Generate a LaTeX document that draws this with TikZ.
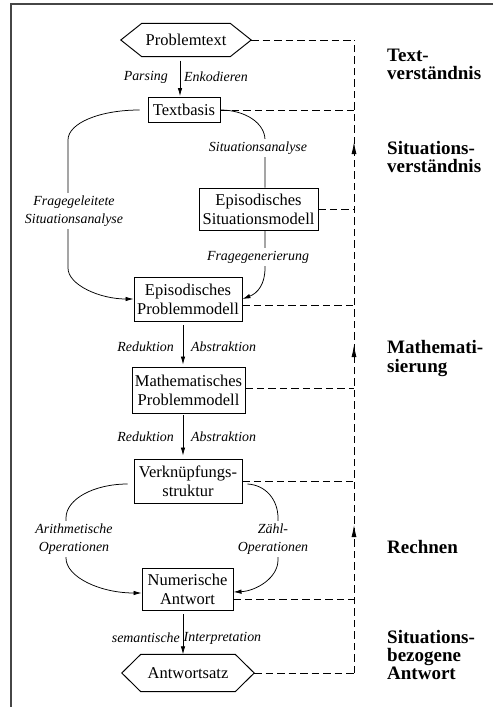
\documentclass[tikz,border=0pt]{standalone}
\usepackage{fontspec}
\setmainfont{Liberation Serif}
\usetikzlibrary{arrows.meta,decorations.markings}
\begin{document}
\begin{tikzpicture}[x=1pt,y=-1pt,
  box/.style={draw, line width=0.95pt, align=center, inner sep=2pt, font=\fontsize{16.5}{19}\selectfont},
  hexlabel/.style={inner sep=0pt, minimum height=#1, font=\fontsize{16.5}{19}\selectfont},
  conn/.style={line width=0.75pt},
  arr/.style={-{Latex[length=8pt,width=4.5pt]}},
  lab/.style={font=\itshape\fontsize{13.9}{18}\selectfont, inner sep=0pt, align=center},
  wlab/.style={lab, fill=white, inner sep=3pt},
  fb/.style={line width=0.8pt, dash pattern=on 7.5pt off 4pt},
  phase/.style={font=\bfseries\fontsize{19}{18}\selectfont, align=left, anchor=west, inner sep=0pt},
]
\useasboundingbox (0,0) rectangle (493,707);
% frame
\draw[gray!55!black, line width=1.4pt] (493,4) -- (11,4) -- (11,707);

% helper coordinates
\coordinate (ax0) at (180,0);
\coordinate (ax) at (183,0);
\coordinate (rx) at (265,0);
\coordinate (rail) at (354,0);

% nodes
\node[hexlabel=33pt, minimum width=88pt] (pt) at (186,40) {Problemtext};
\draw[line width=0.95pt] (pt.north west) -- (pt.north east) -- ([xshift=21pt]pt.east) coordinate (ptR) -- (pt.south east) -- (pt.south west) -- ([xshift=-21pt]pt.west) -- cycle;
\node[box, minimum width=72pt, minimum height=25pt] (tb) at (184,110) {Textbasis};
\node[box, minimum width=119pt, minimum height=42pt] (esm) at (258.5,209) {Episodisches\\Situationsmodell};
\node[box, minimum width=108pt, minimum height=44pt] (epm) at (188,299) {Episodisches\\Problemmodell};
\node[box, minimum width=113pt, minimum height=46pt] (mpm) at (188.5,390) {Mathematisches\\Problemmodell};
\node[box, minimum width=108pt, minimum height=44pt] (vs) at (188,481) {Verknüpfungs-\\struktur};
\node[box, minimum width=91pt, minimum height=42pt] (nu) at (187.5,589) {Numerische\\Antwort};
\node[hexlabel=37pt, minimum width=94pt] (as) at (188,673) {Antwortsatz};
\draw[line width=0.95pt] (as.north west) -- (as.north east) -- ([xshift=19pt]as.east) coordinate (asR) -- (as.south east) -- (as.south west) -- ([xshift=-19pt]as.west) -- cycle;

% straight arrows
\draw[conn, arr, shorten <=4pt, shorten >=1pt] (pt.south -| ax0) -- (tb.north -| ax0);
\node[lab, anchor=east] (lP) at (168,77) {Parsing};
\node[lab, anchor=west] (lE) at (184,77) {Enkodieren};
\draw[conn, arr, shorten <=4pt, shorten >=2pt] (epm.south -| ax) -- (mpm.north -| ax);
\node[lab, anchor=east] (lR1) at (174,347) {Reduktion};
\node[lab, anchor=west] (lA1) at (191,347) {Abstraktion};
\draw[conn, arr, shorten <=2pt, shorten >=3pt] (mpm.south -| ax) -- (vs.north -| ax);
\node[lab, anchor=east] (lR2) at (174,437) {Reduktion};
\node[lab, anchor=west] (lA2) at (191,437) {Abstraktion};
\draw[conn, arr, shorten <=4pt] (nu.south -| ax) -- (as.north -| ax);
\node[lab, anchor=east] (lS) at (180,638) {semantische};
\node[lab, anchor=west] (lI) at (183.5,638) {Interpretation};

% curved connectors
\draw[conn, arr] ([xshift=-8pt]tb.west) .. controls (100,110) and (68,123) .. (68,140) -- (68,268) .. controls (68,285) and (100,299) .. (epm.west);
\draw[conn] (tb.east) .. controls (245,110) and (265,123) .. (265,140) -- (esm.north -| rx);
\draw[conn, arr] (esm.south -| rx) -- (265,268) .. controls (265,284) and (258,293) .. (epm.east);
\draw[conn, arr] ([xshift=-6pt,yshift=-3pt]vs.west) .. controls (94,484) and (66,499) .. (66,518) -- (66,558) .. controls (66,577) and (100,593) .. ([yshift=-4pt]nu.west);
\draw[conn, arr] ([xshift=5pt,yshift=-3pt]vs.east) .. controls (266,485) and (278,500) .. (278,518) -- (278,560) .. controls (278,578) and (256,591) .. ([yshift=-3pt]nu.east);

% labels on curves
\node[wlab] (lFS) at (74,211) {Fragegeleitete\\Situationsanalyse};
\node[wlab] (lSA) at (258,148) {Situationsanalyse};
\node[wlab] (lFG) at (258,257) {Fragegenerierung};
\node[wlab] (lAO) at (74,539) {Arithmetische\\Operationen};
\node[wlab] (lZO) at (273,539) {Zähl-\\Operationen};

% feedback dashed lines
\draw[fb] (ptR) -- (ptR -| rail);
\draw[fb] (tb.east) -- (tb.east -| rail);
\draw[fb] (esm.east) -- (esm.east -| rail);
\draw[fb] ([yshift=-6pt]epm.east) -- ([yshift=-6pt]epm.east -| rail);
\draw[fb] ([yshift=2pt]mpm.east) -- ([yshift=2pt]mpm.east -| rail);
\draw[fb] (vs.east) -- (vs.east -| rail);
\draw[fb] ([yshift=-10pt]nu.east) -- ([yshift=-10pt]nu.east -| rail);
\draw[fb] (asR) -- (asR -| rail);
\draw[fb, postaction={decorate}, decoration={markings,
   mark=at position 148pt with {\pgfsetdash{}{0pt}\arrow{Latex[length=12pt,width=5pt]}},
   mark=at position 328pt with {\pgfsetdash{}{0pt}\arrow{Latex[length=12pt,width=5pt]}},
   mark=at position 531pt with {\pgfsetdash{}{0pt}\arrow{Latex[length=12pt,width=5pt]}}}]
   (asR -| rail) -- (ptR -| rail);

% phase labels
\node[phase] (ph1) at (387,64) {Text-\\verständnis};
\node[phase] (ph2) at (387,157) {Situations-\\verständnis};
\node[phase] (ph3) at (387,358.5) {Mathemati-\\sierung};
\node[phase] (ph4) at (387,547) {Rechnen};
\node[phase] (ph5) at (387,655) {Situations-\\bezogene\\Antwort};
\end{tikzpicture}
\end{document}
